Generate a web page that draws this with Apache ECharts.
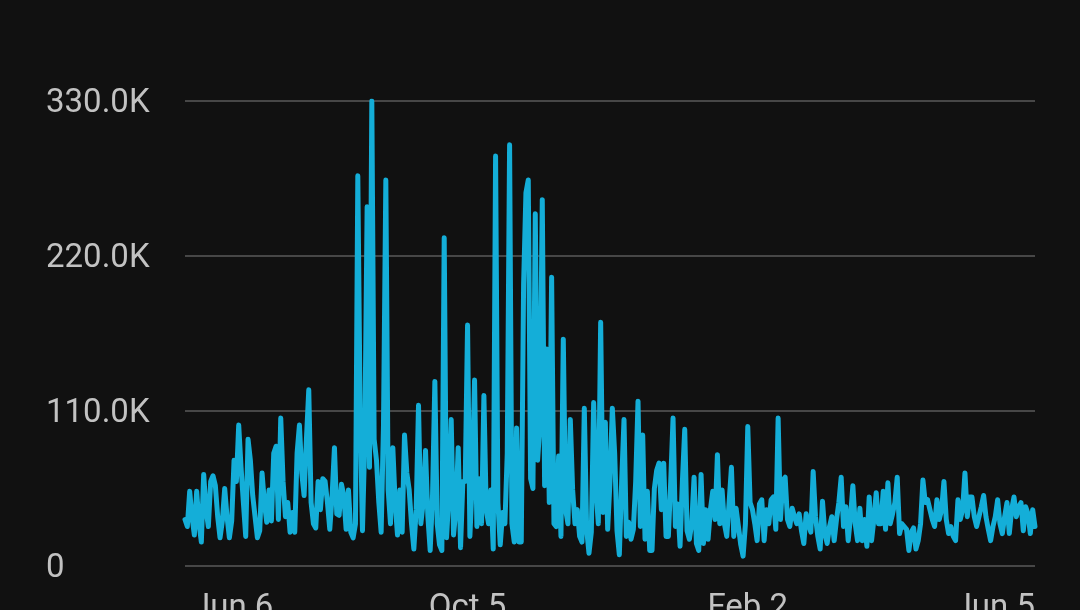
<!DOCTYPE html>
<html>
<head>
<meta charset="utf-8">
<style>
  html, body { margin: 0; padding: 0; background: #111111; }
  #chart { width: 1080px; height: 610px; }
</style>
<script src="https://cdn.jsdelivr.net/npm/echarts@6/dist/echarts.min.js"></script>
</head>
<body>
<div id="chart"></div>
<script>
// Daily values (thousands), Jun 6 .. Jun 5 next year
const startDate = '2024-06-06';
const dayCount = 365;
const valuesK = [
  33,28,53,35,22,53,30,17,65,40, 28,60,64,57,35,20,32,55,35,20,
  32,75,60,100,70,45,21,90,75,50, 35,20,25,66,45,31,54,32,80,85,
  33,105,60,35,45,24,38,24,80,100, 66,50,90,125,45,30,27,60,40,62,
  60,45,26,50,84,37,36,58,50,26, 54,24,20,30,277,110,25,90,255,70,
  330,90,75,45,24,100,274,54,30,84, 45,22,54,24,93,66,54,30,12,40,
  114,30,45,82,35,11,50,131,30,15, 11,233,20,50,104,22,40,84,13,60,
  60,171,21,60,132,28,62,30,121,40, 30,54,12,291,45,15,38,30,80,299,
  30,17,98,17,17,200,265,274,62,55, 250,75,100,260,57,154,45,205,30,28,
  78,21,161,40,30,104,54,30,40,21, 17,112,26,9,24,116,54,30,173,38,
  102,26,60,112,80,25,8,60,104,21, 31,19,26,60,117,28,93,19,53,11,
  11,55,68,73,40,73,21,21,60,105, 28,44,14,60,97,25,19,30,63,16,
  11,65,16,40,19,40,53,33,79,30, 54,30,21,45,70,21,41,28,15,7,
  30,99,45,40,30,18,44,47,18,40, 30,47,49,26,105,33,61,63,33,28,
  41,35,30,37,25,16,37,30,24,67, 35,21,12,46,23,16,28,35,18,33,
  45,63,28,42,18,35,57,30,18,41, 18,33,14,49,18,33,52,30,30,53,
  26,59,30,37,45,63,23,30,28,26, 11,24,27,12,18,30,61,45,47,40,
  33,28,47,33,40,60,33,23,28,21, 18,47,33,40,66,35,49,49,35,28,
  35,42,50,35,26,18,28,35,47,30, 23,35,45,23,40,49,35,42,45,25,
  42,37,23,40,28
];
const labelIndices = [0, 121, 241, 364];
const yTicks = [0, 110000, 220000, 330000];

const monthNames = ['Jan','Feb','Mar','Apr','May','Jun','Jul','Aug','Sep','Oct','Nov','Dec'];
const categories = [];
const base = new Date(startDate + 'T00:00:00Z');
for (let i = 0; i < dayCount; i++) {
  const d = new Date(base.getTime() + i * 86400000);
  categories.push(monthNames[d.getUTCMonth()] + ' ' + d.getUTCDate());
}
const values = valuesK.map(v => v * 1000);

const labelFont = { color: '#c2c2c2', fontSize: 33, fontFamily: 'Roboto' };

const chart = echarts.init(document.getElementById('chart'), null, { renderer: 'canvas' });
chart.setOption({
  backgroundColor: '#111111',
  animation: false,
  grid: { left: 185, right: 45, top: 101, bottom: 44, containLabel: false, outerBoundsMode: 'none' },
  xAxis: {
    type: 'category',
    data: categories,
    boundaryGap: false,
    axisLine: { show: false },
    axisTick: { show: false },
    splitLine: { show: false },
    axisLabel: Object.assign({}, labelFont, {
      interval: (idx) => labelIndices.indexOf(idx) >= 0,
      margin: 26,
      alignMinLabel: 'left',
      alignMaxLabel: 'right',
      hideOverlap: false,
      formatter: (value, idx) => idx === 0 ? '{first|' + value + '}' : value,
      rich: { first: Object.assign({}, labelFont, { padding: [0, 0, 0, 7] }) }
    })
  },
  yAxis: {
    type: 'value',
    min: yTicks[0],
    max: yTicks[yTicks.length - 1],
    interval: yTicks[1] - yTicks[0],
    axisLine: { show: false },
    axisTick: { show: false },
    splitLine: { lineStyle: { color: '#474747', width: 2 } },
    axisLabel: Object.assign({}, labelFont, {
      align: 'left',
      verticalAlign: 'top',
      lineHeight: 6,
      margin: 139,
      formatter: (v) => v === 0 ? '0' : (v / 1000).toFixed(1) + 'K'
    })
  },
  series: [{
    type: 'line',
    data: values,
    showSymbol: false,
    symbol: 'none',
    smooth: false,
    lineStyle: { color: '#14aed8', width: 5, join: 'round', cap: 'round' }
  }]
});
</script>
</body>
</html>
